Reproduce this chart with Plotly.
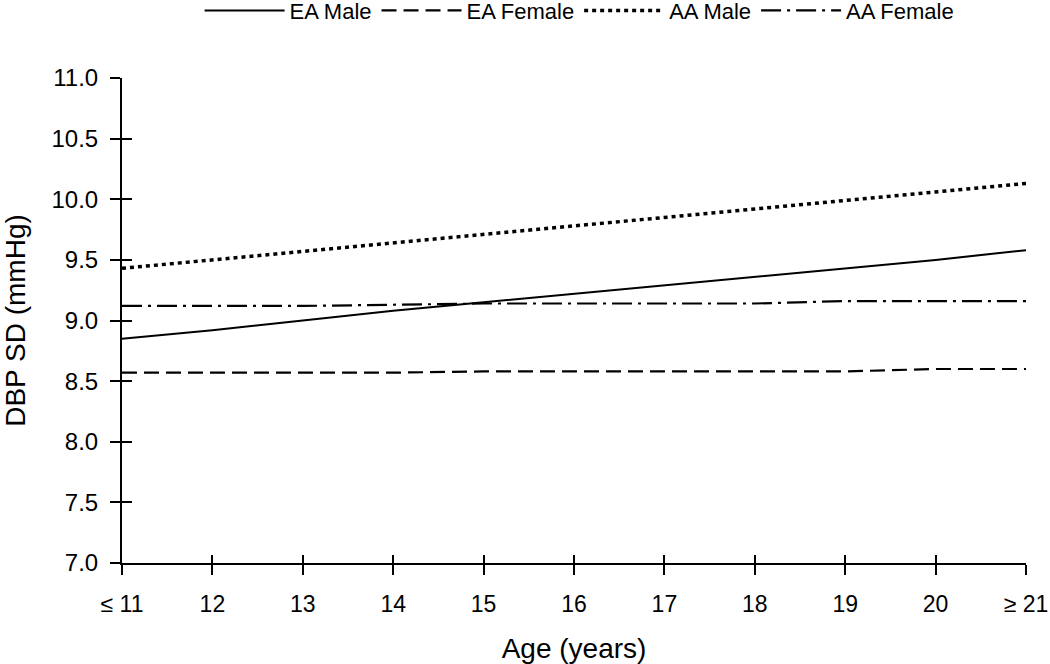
import plotly.graph_objects as go

ages = [11, 12, 13, 14, 15, 16, 17, 18, 19, 20, 21]
age_labels = ["≤ 11", "12", "13", "14", "15", "16", "17", "18", "19", "20", "≥ 21"]
ea_male = [8.85, 8.92, 9.00, 9.08, 9.15, 9.22, 9.29, 9.36, 9.43, 9.50, 9.58]
ea_female = [8.57, 8.57, 8.57, 8.57, 8.58, 8.58, 8.58, 8.58, 8.58, 8.60, 8.60]
aa_male = [9.43, 9.50, 9.57, 9.64, 9.71, 9.78, 9.85, 9.92, 9.99, 10.06, 10.13]
aa_female = [9.12, 9.12, 9.12, 9.13, 9.14, 9.14, 9.14, 9.14, 9.16, 9.16, 9.16]
y_ticks = [7.0, 7.5, 8.0, 8.5, 9.0, 9.5, 10.0, 10.5, 11.0]

FONT = "Liberation Sans, Arial, Helvetica, sans-serif"

fig = go.Figure()
series = [
    ("EA Male", ea_male, "solid", 2),
    ("EA Female", ea_female, "15px,7px", 2.2),
    ("AA Male", aa_male, "4px,4px", 3.5),
    ("AA Female", aa_female, "20px,6px,3px,6px", 2.2),
]
for name, vals, dash, w in series:
    fig.add_trace(go.Scatter(x=ages, y=vals, name=name, mode="lines",
                             line=dict(color="black", width=w, dash=dash)))

# invisible trace on overlay axes that carry the inner half of the crossing ticks
fig.add_trace(go.Scatter(x=[11], y=[7], xaxis="x2", yaxis="y2", mode="markers",
                         marker=dict(opacity=0), showlegend=False, hoverinfo="skip"))

axis_common = dict(showgrid=False, zeroline=False, color="black")
fig.update_layout(
    width=1050, height=664,
    paper_bgcolor="white", plot_bgcolor="white",
    margin=dict(l=122, r=24, t=78, b=101),
    font=dict(family=FONT, size=23, color="black"),
    xaxis=dict(range=[11, 21], tickvals=ages, ticktext=age_labels,
               showline=True, linewidth=2, linecolor="black",
               ticks="outside", ticklen=10, tickwidth=2, tickcolor="black",
               ticklabelstandoff=9, automargin=False,
               tickfont=dict(size=23),
               title=dict(text="Age (years)", standoff=23, font=dict(size=28)),
               **axis_common),
    yaxis=dict(range=[7, 11], tickvals=y_ticks, ticktext=[f"{v:.1f}" for v in y_ticks],
               showline=True, linewidth=2, linecolor="black",
               ticks="outside", ticklen=10, tickwidth=2, tickcolor="black",
               ticklabelstandoff=7, automargin=False,
               tickfont=dict(size=24),
               title=dict(text="DBP SD (mmHg)", standoff=18, font=dict(size=28)),
               **axis_common),
    xaxis2=dict(range=[11, 21], tickvals=ages, overlaying="x", showticklabels=False,
                ticks="inside", ticklen=8, tickwidth=2, tickcolor="black",
                showline=False, **axis_common),
    yaxis2=dict(range=[7, 11], tickvals=y_ticks, overlaying="y", showticklabels=False,
                ticks="inside", ticklen=10, tickwidth=2, tickcolor="black",
                showline=False, **axis_common),
    legend=dict(orientation="h", xref="container", yref="container",
                x=0.552, xanchor="center", y=0.984, yanchor="middle",
                font=dict(size=22), itemwidth=80, tracegroupgap=0,
                bgcolor="rgba(0,0,0,0)"),
    showlegend=True,
)

fig.write_html("out.html", config={"displayModeBar": False},
               post_script="document.body.style.margin='0';")
